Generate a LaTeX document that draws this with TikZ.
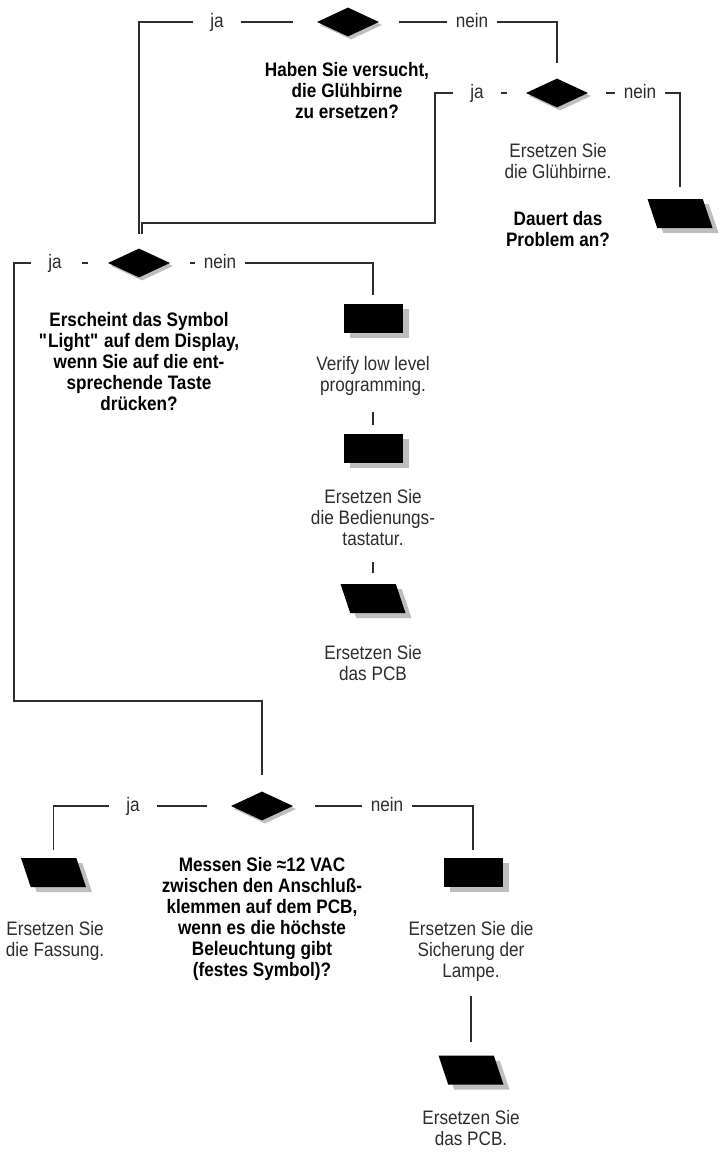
\documentclass[tikz,border=0pt]{standalone}
\usepackage{fontspec}
\setmainfont{Liberation Sans}[FakeStretch=0.88]
\usetikzlibrary{shapes.geometric, shadows}
\definecolor{linegray}{RGB}{45,45,45}
\definecolor{textgray}{RGB}{45,45,45}
\definecolor{shadowgray}{RGB}{190,190,190}
\newcommand{\chartfont}{\fontsize{19.5}{21}\selectfont}

\begin{document}
\begin{tikzpicture}[
    x=1pt, y=-1pt,
    decision/.style={diamond, aspect=2, fill=black, inner sep=0pt, minimum width=62pt, minimum height=29pt,
        drop shadow={shadow xshift=3pt, shadow yshift=-3pt, fill=shadowgray, opacity=1}},
    action/.style={rectangle, fill=black, inner sep=0pt, minimum width=59pt, minimum height=29pt,
        drop shadow={shadow xshift=6pt, shadow yshift=-5pt, fill=shadowgray, opacity=1}},
    endbox/.style={trapezium, trapezium left angle=102, trapezium right angle=78, trapezium stretches=true,
        fill=black, inner sep=2pt, minimum width=65pt, minimum height=29pt,
        drop shadow={shadow xshift=6pt, shadow yshift=-5pt, fill=shadowgray, opacity=1}},
    question/.style={font=\chartfont\bfseries, align=center, anchor=north, inner sep=0pt},
    answer/.style={font=\chartfont, text=textgray, align=center, anchor=north, inner sep=0pt},
    yes/.style={font=\chartfont, text=textgray, minimum width=47pt, inner sep=0pt, text height=14pt, text depth=4pt},
    no/.style={font=\chartfont, text=textgray, minimum width=50pt, inner sep=0pt, text height=14pt, text depth=4pt},
    link/.style={draw=linegray, line width=1.3pt}
]
\useasboundingbox (0,0) rectangle (720,1154);

% Frage 1: Gluehbirne ersetzt?
\node[decision] (d1) at (348,22) {};
\node[yes] (ja1) at (217,22) {ja};
\node[no] (nein1) at (472,22) {nein};
\node[question] (q1) at (347,62) {Haben Sie versucht,\\die Glühbirne\\zu ersetzen?};
\draw[link, shorten >=24pt] (ja1) -- (d1);
\draw[link, shorten <=20pt] (d1) -- (nein1);

% Frage 2: Problem weiter da?
\node[decision] (d2) at (557,93) {};
\node[yes] (ja2) at (477,93) {ja};
\node[no] (nein2) at (640,93) {nein};
\node[answer] (t2) at (558,143) {Ersetzen Sie\\die Glühbirne.};
\node[question] (q2) at (558,211) {Dauert das\\Problem an?};
\node[endbox] (p1) at (680,213.5) {};
\draw[link, shorten >=15pt] (nein1) -| (d2);
\draw[link, shorten >=19pt] (ja2) -- (d2);
\draw[link, shorten <=18pt] (d2) -- (nein2);
\draw[link, shorten >=12pt] (nein2) -| (p1);

% Frage 3: Symbol Light
\node[decision] (d3) at (139,263) {};
\node[yes] (ja3) at (55,263) {ja};
\node[no] (nein3) at (220,263) {nein};
\node[question] (q3) at (139,312) {Erscheint das Symbol\\\textquotedbl Light\textquotedbl{} auf dem Display,\\wenn Sie auf die ent-\\sprechende Taste\\drücken?};
\coordinate (k2) at (435,223);
\draw[link, shorten >=14pt] (ja1) -| (d3);
\draw[link, shorten >=14pt] (ja2) -| (k2) -| ([xshift=3pt]d3.north);
\draw[link, shorten <=3pt, shorten >=20pt] (ja3) -- (d3);
\draw[link, shorten <=20pt] (d3) -- (nein3);

\node[action] (b1) at (373,318.5) {};
\node[answer] (t3a) at (373,356) {Verify low level\\programming.};
\node[action] (b2) at (373,448.5) {};
\node[answer] (t3b) at (373,489) {Ersetzen Sie\\die Bedienungs-\\tastatur.};
\node[endbox] (p2) at (373,598.5) {};
\node[answer] (t3c) at (373,645) {Ersetzen Sie\\das PCB};
\draw[link, shorten >=9pt] (nein3) -| (b1);
\draw[link, shorten <=16pt, shorten >=9pt] (t3a) -- (b2);
\draw[link, shorten <=16pt, shorten >=11pt] (t3b) -- (p2);

% Frage 4: Spannung messen
\node[decision] (d4) at (262,806) {};
\node[yes] (ja4) at (133,806) {ja};
\node[no] (nein4) at (387,806) {nein};
\node[question] (q4) at (262,857) {Messen Sie ≈12 VAC\\zwischen den Anschluß-\\klemmen auf dem PCB,\\wenn es die höchste\\Beleuchtung gibt\\(festes Symbol)?};
\coordinate (k3) at (14,701);
\draw[link, shorten >=16pt] (ja3) -| (k3) -| (d4);
\draw[link, shorten >=24pt] (ja4) -- (d4);
\draw[link, shorten <=22pt] (d4) -- (nein4);

\node[endbox] (p4a) at (53.5,872.5) {};
\node[answer] (t4a) at (55,921) {Ersetzen Sie\\die Fassung.};
\node[action] (b4) at (473,872.5) {};
\node[answer] (t4b) at (471,921) {Ersetzen Sie die\\Sicherung der\\Lampe.};
\node[endbox] (p4c) at (471,1070) {};
\node[answer] (t4c) at (471,1110) {Ersetzen Sie\\das PCB.};
\draw[link, shorten >=8pt] (ja4) -| (p4a);
\draw[link, shorten >=8pt] (nein4) -| (b4);
\draw[link, shorten <=14pt, shorten >=13pt] (t4b) -- (p4c);

\end{tikzpicture}
\end{document}
